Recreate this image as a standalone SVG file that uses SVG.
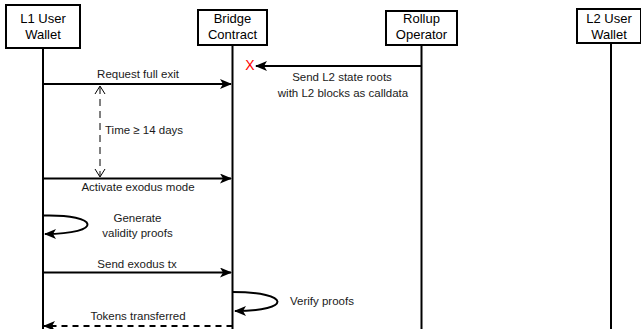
<svg xmlns="http://www.w3.org/2000/svg" width="641" height="329" viewBox="0 0 641 329">
  <style>
    .box { fill: #ffffff; stroke: #000000; stroke-width: 2; }
    .life { stroke: #000000; stroke-width: 2; fill: none; }
    .msg { stroke: #000000; stroke-width: 2; fill: none; }
    .dash { stroke-dasharray: 6 5; }
    .dim { stroke: #000000; stroke-width: 1; fill: none; stroke-dasharray: 7 5; }
    .title { font-family: "Liberation Sans", Arial, sans-serif; font-size: 13px; fill: #000000; text-anchor: middle; }
    .lbl { font-family: "Liberation Sans", Arial, sans-serif; font-size: 11.5px; fill: #1a1a1a; text-anchor: middle; }
    .lbl.left { text-anchor: start; }
  </style>
  <defs>
    <marker id="head" markerWidth="12" markerHeight="10" refX="11" refY="5" orient="auto" markerUnits="userSpaceOnUse">
      <path d="M0,0 L12,5 L0,10 L3,5 Z" fill="#000000"/>
    </marker>
  </defs>

  <!-- lifelines -->
  <g id="lifelines">
    <line class="life" x1="43" y1="48" x2="43" y2="329"/>
    <line class="life" x1="232.5" y1="45" x2="232.5" y2="329"/>
    <line class="life" x1="421.5" y1="45" x2="421.5" y2="329"/>
    <line class="life" x1="611" y1="43" x2="611" y2="329"/>
  </g>

  <g id="l1-wallet">
    <rect class="box" x="6" y="5" width="74" height="43"/>
    <text class="title" x="43" y="23">L1 User</text>
    <text class="title" x="43" y="39">Wallet</text>
  </g>
  <g id="bridge-contract">
    <rect class="box" x="198" y="10" width="69" height="35"/>
    <text class="title" x="232.5" y="23">Bridge</text>
    <text class="title" x="232.5" y="39">Contract</text>
  </g>
  <g id="rollup-operator">
    <rect class="box" x="386" y="11" width="71" height="34"/>
    <text class="title" x="421.5" y="23">Rollup</text>
    <text class="title" x="421.5" y="39">Operator</text>
  </g>
  <g id="l2-wallet">
    <rect class="box" x="577" y="9" width="64" height="34"/>
    <text class="title" x="609" y="23">L2 User</text>
    <text class="title" x="609" y="39">Wallet</text>
  </g>

  <!-- messages -->
  <g id="connectors">
    <line class="msg" x1="43" y1="84" x2="231" y2="84" marker-end="url(#head)"/>
    <text class="lbl" x="138" y="78">Request full exit</text>

    <line class="msg" x1="421.5" y1="66" x2="256" y2="66" marker-end="url(#head)"/>
    <text x="250" y="70" font-family="Liberation Sans, Arial, sans-serif" font-size="14px" fill="#ff0000" text-anchor="middle">X</text>
    <text class="lbl" x="342" y="81">Send L2 state roots</text>
    <text class="lbl" x="343" y="97">with L2 blocks as calldata</text>

    <line class="dim" x1="100" y1="87" x2="100" y2="176"/>
    <path d="M95,94 L100,86 L105,94" fill="none" stroke="#000000" stroke-width="1"/>
    <path d="M95,169 L100,177 L105,169" fill="none" stroke="#000000" stroke-width="1"/>
    <text class="lbl left" x="105" y="134">Time ≥ 14 days</text>

    <line class="msg" x1="43" y1="178.5" x2="231" y2="178.5" marker-end="url(#head)"/>
    <text class="lbl" x="138" y="191">Activate exodus mode</text>

    <path class="msg" d="M43,215.5 C100,214 104,234 45,234" marker-end="url(#head)"/>
    <text class="lbl" x="137.5" y="222">Generate</text>
    <text class="lbl" x="137.5" y="237">validity proofs</text>

    <line class="msg" x1="43" y1="272.5" x2="231" y2="272.5" marker-end="url(#head)"/>
    <text class="lbl" x="137" y="268">Send exodus tx</text>

    <path class="msg" d="M232.5,292 C291,292 293,311 235,311" marker-end="url(#head)"/>
    <text class="lbl left" x="290" y="305">Verify proofs</text>

    <line class="msg dash" x1="232.5" y1="326" x2="44" y2="326" marker-end="url(#head)"/>
    <text class="lbl" x="138" y="320">Tokens transferred</text>
  </g>
</svg>
